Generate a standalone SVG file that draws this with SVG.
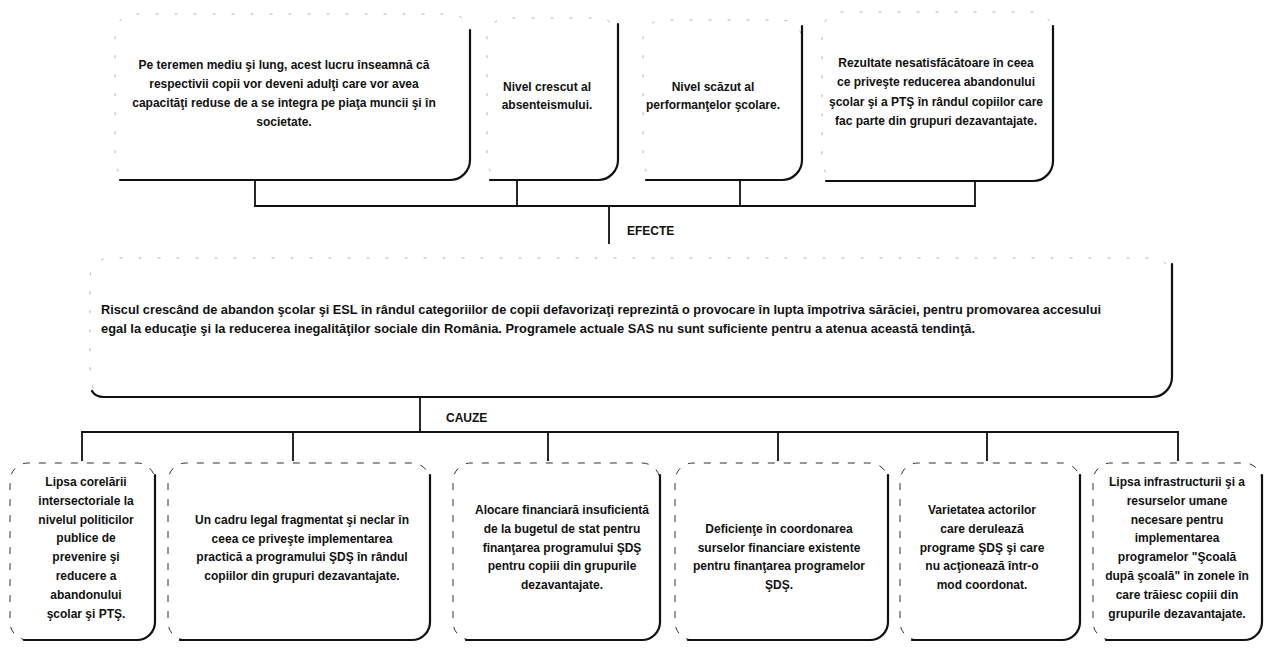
<svg xmlns="http://www.w3.org/2000/svg" width="1268" height="648" viewBox="0 0 1268 648">
<style>
.edge{fill:none;stroke:#111;stroke-width:2.2;stroke-linecap:round}
.ghost{fill:none;stroke:#aaa;stroke-width:0.9;stroke-dasharray:3 16}
.dash{fill:none;stroke:#333;stroke-width:1;stroke-dasharray:7 9}
.con{fill:none;stroke:#111;stroke-width:1.8}
text{font-family:"Liberation Sans",Arial,sans-serif;font-weight:bold;fill:#111}
.t{font-size:12px;text-anchor:middle}
.m{font-size:12.5px}
.lbl{font-size:12px}
</style>
<rect width="1268" height="648" fill="#fff"/>
<g id="connectors">
<path class="con" d="M255,180V206M517,180V206M740,180V206M975,181V206M254,206H976M609,206V244"/>
<path class="con" d="M420,397V432M81,432H1179M82,432V461M293,432V461M548,432V461M778,432V461M987,432V461M1178,432V461"/>
<text class="lbl" x="627" y="235">EFECTE</text>
<text class="lbl" x="446" y="422">CAUZE</text>
</g>
<g id="efect1">
<path class="ghost" d="M135,180A20,20 0 0 1 115,160L115,34A20,20 0 0 1 135,14L450,14A20,20 0 0 1 470,34"/>
<path class="edge" d="M470,30L470,160A20,20 0 0 1 450,180L120,180"/>
<text class="t" x="284" y="69">Pe teremen mediu şi lung, acest lucru înseamnă că</text>
<text class="t" x="284" y="88">respectivii copii vor deveni adulţi care vor avea</text>
<text class="t" x="284" y="107">capacităţi reduse de a se integra pe piaţa muncii şi în</text>
<text class="t" x="284" y="126">societate.</text>
</g>
<g id="efect2">
<path class="ghost" d="M507,180A20,20 0 0 1 487,160L487,38A20,20 0 0 1 507,18L598,18A20,20 0 0 1 618,38"/>
<path class="edge" d="M618,24L618,160A20,20 0 0 1 598,180L490,180"/>
<text class="t" x="547" y="91">Nivel crescut al</text>
<text class="t" x="547" y="109">absenteismului.</text>
</g>
<g id="efect3">
<path class="ghost" d="M663,180A20,20 0 0 1 643,160L643,40A20,20 0 0 1 663,20L782,20A20,20 0 0 1 802,40"/>
<path class="edge" d="M802,26L802,160A20,20 0 0 1 782,180L646,180"/>
<text class="t" x="713" y="91">Nivel scăzut al</text>
<text class="t" x="713" y="109">performanţelor şcolare.</text>
</g>
<g id="efect4">
<path class="ghost" d="M842,181A20,20 0 0 1 822,161L822,32A20,20 0 0 1 842,12L1033,12A20,20 0 0 1 1053,32"/>
<path class="edge" d="M1053,26L1053,161A20,20 0 0 1 1033,181L826,181"/>
<text class="t" x="936" y="67">Rezultate nesatisfăcătoare în ceea</text>
<text class="t" x="936" y="86">ce priveşte reducerea abandonului</text>
<text class="t" x="936" y="106">şcolar şi a PTŞ în rândul copiilor care</text>
<text class="t" x="936" y="125">fac parte din grupuri dezavantajate.</text>
</g>
<g id="problema">
<path class="ghost" d="M110,397A20,20 0 0 1 90,377L90,278A20,20 0 0 1 110,258L1152,258A20,20 0 0 1 1172,278"/>
<path class="edge" d="M1172,264L1172,377A20,20 0 0 1 1152,397L104,397Q95,397 92,391"/>
<text class="m" x="101" y="314" textLength="1000" lengthAdjust="spacingAndGlyphs">Riscul crescând de abandon şcolar şi ESL în rândul categoriilor de copii defavorizaţi reprezintă o provocare în lupta împotriva sărăciei, pentru promovarea accesului</text>
<text class="m" x="101" y="333" textLength="874" lengthAdjust="spacingAndGlyphs">egal la educaţie şi la reducerea inegalităţilor sociale din România. Programele actuale SAS nu sunt suficiente pentru a atenua această tendinţă.</text>
</g>
<g id="cauza1">
<path class="dash" d="M28,640A18,18 0 0 1 10,622L10,481A18,18 0 0 1 28,463L137,463A18,18 0 0 1 155,481"/>
<path class="edge" d="M155,475L155,622A18,18 0 0 1 137,640L24,640"/>
<text class="t" x="86" y="486">Lipsa corelării</text>
<text class="t" x="86" y="505">intersectoriale la</text>
<text class="t" x="86" y="524">nivelul politicilor</text>
<text class="t" x="86" y="542">publice de</text>
<text class="t" x="86" y="561">prevenire şi</text>
<text class="t" x="86" y="580">reducere a</text>
<text class="t" x="86" y="599">abandonului</text>
<text class="t" x="86" y="618">şcolar şi PTŞ.</text>
</g>
<g id="cauza2">
<path class="dash" d="M186,640A18,18 0 0 1 168,622L168,481A18,18 0 0 1 186,463L412,463A18,18 0 0 1 430,481"/>
<path class="edge" d="M430,475L430,622A18,18 0 0 1 412,640L180,640"/>
<text class="t" x="302" y="524">Un cadru legal fragmentat şi neclar în</text>
<text class="t" x="302" y="543">ceea ce priveşte implementarea</text>
<text class="t" x="302" y="561">practică a programului ŞDŞ în rândul</text>
<text class="t" x="302" y="580">copiilor din grupuri dezavantajate.</text>
</g>
<g id="cauza3">
<path class="dash" d="M471,640A18,18 0 0 1 453,622L453,481A18,18 0 0 1 471,463L642,463A18,18 0 0 1 660,481"/>
<path class="edge" d="M660,475L660,622A18,18 0 0 1 642,640L466,640"/>
<text class="t" x="562" y="514">Alocare financiară insuficientă</text>
<text class="t" x="562" y="533">de la bugetul de stat pentru</text>
<text class="t" x="562" y="552">finanţarea programului ŞDŞ</text>
<text class="t" x="562" y="570">pentru copiii din grupurile</text>
<text class="t" x="562" y="589">dezavantajate.</text>
</g>
<g id="cauza4">
<path class="dash" d="M693,640A18,18 0 0 1 675,622L675,481A18,18 0 0 1 693,463L870,463A18,18 0 0 1 888,481"/>
<path class="edge" d="M888,475L888,622A18,18 0 0 1 870,640L688,640"/>
<text class="t" x="779" y="533">Deficienţe în coordonarea</text>
<text class="t" x="779" y="552">surselor financiare existente</text>
<text class="t" x="779" y="570">pentru finanţarea programelor</text>
<text class="t" x="779" y="589">ŞDŞ.</text>
</g>
<g id="cauza5">
<path class="dash" d="M918,640A18,18 0 0 1 900,622L900,481A18,18 0 0 1 918,463L1062,463A18,18 0 0 1 1080,481"/>
<path class="edge" d="M1080,475L1080,622A18,18 0 0 1 1062,640L912,640"/>
<text class="t" x="982" y="514">Varietatea actorilor</text>
<text class="t" x="982" y="533">care derulează</text>
<text class="t" x="982" y="552">programe ŞDŞ şi care</text>
<text class="t" x="982" y="570">nu acţionează într-o</text>
<text class="t" x="982" y="589">mod coordonat.</text>
</g>
<g id="cauza6">
<path class="dash" d="M1111,640A18,18 0 0 1 1093,622L1093,481A18,18 0 0 1 1111,463L1244,463A18,18 0 0 1 1262,481"/>
<path class="edge" d="M1262,475L1262,622A18,18 0 0 1 1244,640L1106,640"/>
<text class="t" x="1177" y="486">Lipsa infrastructurii şi a</text>
<text class="t" x="1177" y="505">resurselor umane</text>
<text class="t" x="1177" y="524">necesare pentru</text>
<text class="t" x="1177" y="542">implementarea</text>
<text class="t" x="1177" y="561">programelor "Şcoală</text>
<text class="t" x="1177" y="580">după şcoală" în zonele în</text>
<text class="t" x="1177" y="599">care trăiesc copiii din</text>
<text class="t" x="1177" y="618">grupurile dezavantajate.</text>
</g>
</svg>
